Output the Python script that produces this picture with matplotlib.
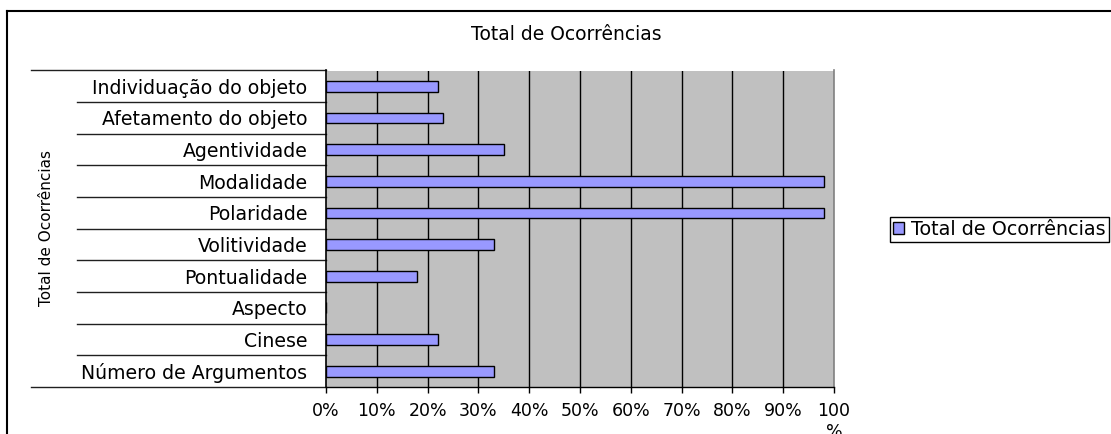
import matplotlib
matplotlib.use("Agg")
import matplotlib.pyplot as plt
from matplotlib.patches import Patch
from matplotlib.lines import Line2D
import matplotlib.transforms as mtransforms

# Chart data
categories = [
    "Individuação do objeto",
    "Afetamento do objeto",
    "Agentividade",
    "Modalidade",
    "Polaridade",
    "Volitividade",
    "Pontualidade",
    "Aspecto",
    "Cinese",
    "Número de Argumentos",
]
values = [22, 23, 35, 98, 98, 33, 18, 0, 22, 33]
x_ticks = [0, 10, 20, 30, 40, 50, 60, 70, 80, 90, 100]
x_tick_labels = ["0%", "10%", "20%", "30%", "40%", "50%", "60%", "70%", "80%", "90%", "100\n%"]
series_name = "Total de Ocorrências"
title = "Total de Ocorrências"
axis_title = "Total de Ocorrências"

plt.rcParams["font.family"] = ["DejaVu Sans"]

W, H = 1111, 434
fig = plt.figure(figsize=(W / 100, H / 100), dpi=100)
fig.patch.set_facecolor("white")

# plot area in pixel coordinates
left_px, right_px, top_px, bottom_px = 326, 834, 70.5, 387
ax = fig.add_axes([left_px / W, 1 - bottom_px / H,
                   (right_px - left_px) / W, (bottom_px - top_px) / H])
ax.set_facecolor("#c0c0c0")

ypos = list(range(len(categories)))
ax.barh(ypos, values, height=0.34, color="#9999ff", edgecolor="black",
        linewidth=1.0, zorder=3)

ax.set_xlim(0, 100)
ax.set_ylim(len(categories) - 0.5, -0.5)

# vertical gridlines
for t in x_ticks[1:-1]:
    ax.axvline(t, color="black", linewidth=1.0, zorder=2)

ax.set_xticks(x_ticks)
ax.set_xticklabels(x_tick_labels, fontsize=12.5, linespacing=1.2)
ax.tick_params(axis="x", direction="out", length=4, width=1, color="black", pad=7)

ax.set_yticks(ypos)
ax.set_yticklabels(categories, fontsize=13.6)
ax.tick_params(axis="y", length=0, pad=13.5)

ax.spines["top"].set_visible(False)
ax.spines["left"].set_color("black")
ax.spines["left"].set_linewidth(1.2)
ax.spines["left"].set_zorder(4)
ax.spines["bottom"].set_color("black")
ax.spines["bottom"].set_linewidth(1.0)
ax.spines["right"].set_color("#808080")
ax.spines["right"].set_linewidth(1.2)

# category separators on the label side
trans = mtransforms.blended_transform_factory(fig.transFigure, ax.transData)
n = len(categories)
for k in range(n + 1):
    yb = k - 0.5
    x0 = 31 / W if k in (0, n) else 77 / W
    ax.add_line(Line2D([x0, left_px / W], [yb, yb], transform=trans,
                       color="#202020", linewidth=1.0, clip_on=False))

# titles
fig.text(566 / W, 1 - 34 / H, title, ha="center", va="center", fontsize=13.5)
fig.text(47 / W, 1 - 228 / H, axis_title, ha="center", va="center",
         rotation=90, fontsize=11)

# legend
fig.legend(handles=[Patch(facecolor="#9999ff", edgecolor="black", linewidth=1.0)],
           labels=[series_name], loc="center left",
           bbox_to_anchor=(890 / W, 1 - 229.5 / H), frameon=True, fancybox=False,
           edgecolor="black", framealpha=1, borderpad=0.15, handlelength=0.6,
           handleheight=0.6, handletextpad=0.35, borderaxespad=0, fontsize=13.8)

# outer chart frame
fig.add_artist(Line2D([7 / W, 1.0], [1 - 11 / H, 1 - 11 / H], transform=fig.transFigure,
                      color="black", linewidth=1.5))
fig.add_artist(Line2D([7 / W, 7 / W], [1 - 11 / H, 0.0], transform=fig.transFigure,
                      color="black", linewidth=1.5))

fig.savefig("out.png", dpi=100)
